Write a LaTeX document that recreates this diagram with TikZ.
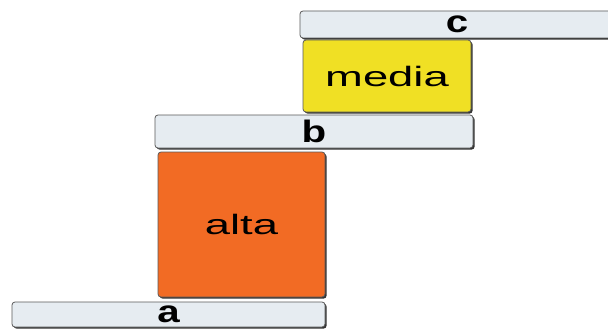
\documentclass[tikz,border=0pt]{standalone}
\usepackage{fontspec}
\setmainfont{Liberation Sans}
\usetikzlibrary{shadows}
\begin{document}
\begin{tikzpicture}[x=1pt,y=-1pt,
  blk/.style={draw=black!65, line width=0.8pt, rounded corners=3pt, inner sep=0pt,
    drop shadow={shadow xshift=1.6pt, shadow yshift=-1.6pt, fill=black!80, opacity=1}},
  bar/.style={blk, fill=barfill, font=\bfseries\fontsize{31}{31}\selectfont},
  word/.style={blk, font=\fontsize{28}{28}\selectfont}]
\definecolor{barfill}{HTML}{E6ECF1}
\definecolor{yel}{HTML}{F0E024}
\definecolor{ora}{HTML}{F26B24}
\useasboundingbox (0,0) rectangle (608,329);
\clip (0,0) rectangle (608,329);
\fill[white] (0,0) rectangle (608,329);
\node[bar, minimum width=314pt, minimum height=27pt] (c) at (457,24.5) {\scalebox{1.3}[1]{c}};
\node[word, fill=yel, minimum width=168pt, minimum height=72pt] (media) at (387,76) {\scalebox{1.62}[1]{media}};
\node[bar, minimum width=318pt, minimum height=33pt] (b) at (314,131.5) {\scalebox{1.3}[1]{b}};
\node[word, fill=ora, minimum width=167pt, minimum height=145pt] (alta) at (241.5,224.5) {\scalebox{1.62}[1]{alta}};
\node[bar, minimum width=313pt, minimum height=25pt] (a) at (168.5,314.5) {\scalebox{1.3}[1]{a}};
\end{tikzpicture}
\end{document}
